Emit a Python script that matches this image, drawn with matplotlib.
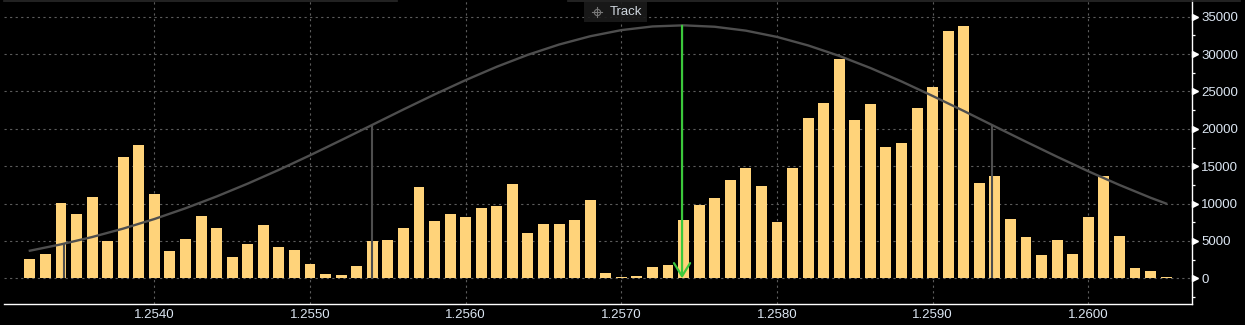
import numpy as np
import matplotlib
matplotlib.use("Agg")
import matplotlib.pyplot as plt
from matplotlib.patches import Rectangle
from matplotlib.lines import Line2D
from matplotlib.transforms import blended_transform_factory

# --- data ---
price_start = 1.2532
price_step = 0.0001
volume = [2600, 3300, 10100, 8600, 10900, 5000, 16200, 17800, 11300, 3700,
          5300, 8300, 6700, 2900, 4600, 7100, 4200, 3800, 1900, 600,
          400, 1700, 5000, 5100, 6700, 12200, 7700, 8600, 8200, 9400,
          9700, 12600, 6100, 7300, 7300, 7800, 10500, 700, 200, 300,
          1500, 1800, 7800, 9800, 10700, 13200, 14800, 12400, 7500, 14800,
          21500, 23500, 29400, 21200, 23300, 17600, 18100, 22800, 25600, 33100,
          33800, 12800, 13700, 7900, 5500, 3100, 5100, 3300, 8200, 13700,
          5700, 1400, 1000, 200]

curve_price = [1.2532, 1.2534, 1.2536, 1.2538, 1.2540, 1.2542, 1.2544, 1.2546,
               1.2548, 1.2550, 1.2552, 1.2554, 1.2556, 1.2558, 1.2560, 1.2562,
               1.2564, 1.2566, 1.2568, 1.2570, 1.2572, 1.2574, 1.2576, 1.2578,
               1.2580, 1.2582, 1.2584, 1.2586, 1.2588, 1.2590, 1.2592, 1.2594,
               1.2596, 1.2598, 1.2600, 1.2602, 1.2604, 1.2605]
curve_value = [3690, 4540, 5520, 6650, 7930, 9370, 10950, 12670,
               14510, 16460, 18480, 20530, 22590, 24600, 26520, 28310,
               29910, 31280, 32390, 33210, 33700, 33850, 33660, 33140,
               32300, 31160, 29760, 28140, 26340, 24400, 22390, 20320,
               18270, 16260, 14320, 12490, 10780, 10000]

# sigma markers (gray) and the mean marker (green)
marker_price = [1.25342, 1.25540, 1.25938]
marker_top = [4550, 20450, 20450]
mean_price = 1.25739
mean_top = 33800

x_ticks = [1.2540, 1.2550, 1.2560, 1.2570, 1.2580, 1.2590, 1.2600]
y_ticks = [0, 5000, 10000, 15000, 20000, 25000, 30000, 35000]

prices = np.round(price_start + price_step * np.arange(len(volume)), 4)

# --- styling ---
bg = "black"
bar_col = "#FFD37A"
curve_col = "#4e4e4e"
green = "#3cc83c"
txt_col = "#dce6f2"
grid_col = "#5c5c5c"
plt.rcParams["font.family"] = ["Liberation Sans", "DejaVu Sans"]

W, H = 1245, 325
fig = plt.figure(figsize=(W / 100, H / 100), dpi=100, facecolor=bg)
ax = fig.add_axes([4 / W, 21 / H, (1191.5 - 4) / W, 304 / H], facecolor=bg)

ax.bar(prices, volume, width=0.00007, color=bar_col, zorder=3)
ax.plot(curve_price, curve_value, color=curve_col, lw=1.7, zorder=4)
ax.vlines(marker_price, 0, marker_top, color=curve_col, lw=1.5, zorder=4)
ax.annotate("", xy=(mean_price, 0), xytext=(mean_price, mean_top),
            arrowprops=dict(arrowstyle="->,head_length=0.47,head_width=0.29",
                            color=green, lw=1.6, mutation_scale=20,
                            shrinkA=0, shrinkB=0), zorder=5)

ax.set_xlim(1.253034, 1.260663)
ax.set_ylim(-3440, 37240)

ax.set_xticks(x_ticks)
ax.set_xticklabels([f"{v:.4f}" for v in x_ticks])
ax.set_yticks(y_ticks)
ax.set_yticklabels([str(v) for v in y_ticks])
ax.set_yticks(np.arange(-2500, 37500, 5000), minor=True)
ax.yaxis.tick_right()
ax.tick_params(axis="x", length=0, pad=3.5, colors=txt_col, labelsize=9.5)
ax.tick_params(axis="y", which="major", length=0, pad=7, colors=txt_col, labelsize=9.5)
ax.tick_params(axis="y", which="minor", length=2.5, width=0.9, color="white", direction="out")

ax.grid(True, which="major", color=grid_col, lw=0.8, linestyle=(0, (2, 3)), zorder=1)

for s in ["left", "top"]:
    ax.spines[s].set_visible(False)
for s in ["bottom", "right"]:
    ax.spines[s].set_color("white")
    ax.spines[s].set_linewidth(1.0)

# triangle markers for major y ticks
tri = blended_transform_factory(ax.transAxes, ax.transData)
ax.plot([1.0032] * len(y_ticks), y_ticks, marker=">", ms=5, color="white",
        linestyle="none", transform=tri, clip_on=False, zorder=6)

# thin frame line on top, broken by the Track button
fig.add_artist(Line2D([4 / W, 397 / W], [1 - 0.5 / H] * 2, color="#2a2a2a", lw=1.2))
fig.add_artist(Line2D([568 / W, 1240 / W], [1 - 0.5 / H] * 2, color="#2a2a2a", lw=1.2))

# Track button
fig.add_artist(Rectangle((584 / W, 1 - 22 / H), 63 / W, 20 / H,
                         transform=fig.transFigure, facecolor="#1b1b1b",
                         edgecolor="none", alpha=0.9, zorder=7))
fig.add_artist(Line2D([597 / W] * 2, [1 - 7 / H, 1 - 17 / H], color="#777777", lw=0.8, zorder=8))
fig.add_artist(Line2D([592 / W, 602 / W], [1 - 12 / H] * 2, color="#777777", lw=0.8, zorder=8))
fig.add_artist(Line2D([597 / W], [1 - 12 / H], marker="o", ms=4.5, mfc="none",
                      mec="#777777", mew=0.8, zorder=8))
fig.text(610 / W, 1 - 12 / H, "Track", color="#cfd6de", fontsize=9.5,
         va="center", ha="left", zorder=9)

fig.savefig("out.png", dpi=100, facecolor=bg)
